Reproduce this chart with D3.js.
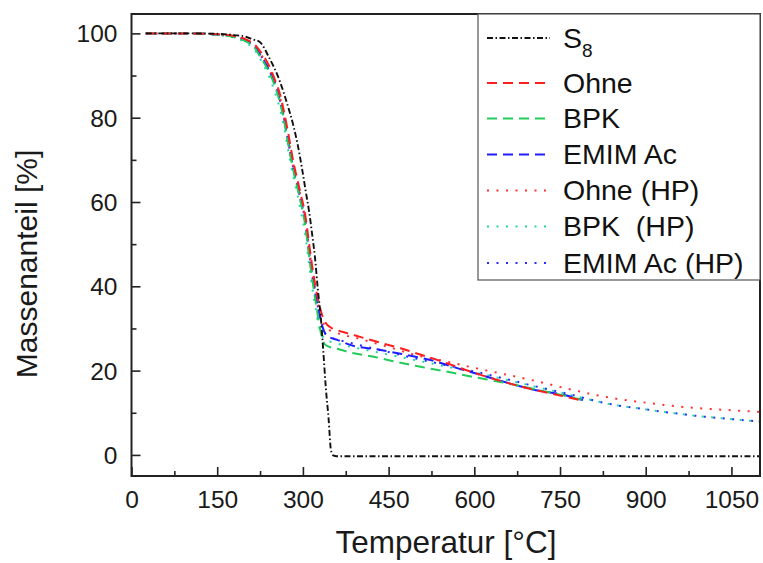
<!DOCTYPE html>
<html><head><meta charset="utf-8">
<script src="https://cdnjs.cloudflare.com/ajax/libs/d3/7.8.5/d3.min.js"></script>
<style>body{margin:0;background:#fff}svg{display:block;font-family:"Liberation Sans",Arial,sans-serif}text{white-space:pre}</style>
</head><body>
<svg id="c" width="763" height="563"></svg>
<script>
// ---- data (temperature °C, mass %) ----
const s8 = [[25,100],[100,100],[150,99.9],[180,99.6],[200,99.2],[212,98.6],[225,97.9],[240,94.5],[260,88.5],[272,83.5],[283,78.3],[291,73.5],[298,68.3],[305,62.5],[311,57.6],[316,52.5],[321,47],[326,39.5],[332,31.5],[336,24],[340,16.1],[345,8.5],[349,1.2],[353,-0.1],[359,-0.3],[450,-0.3],[600,-0.3],[750,-0.3],[900,-0.3],[1050,-0.3],[1100,-0.3]];
const ohne = [[25,100],[100,100],[150,99.8],[180,99.4],[200,98.6],[215,97.4],[225,95.8],[240,92.5],[251,89],[260,85.5],[266,82],[272,78],[278,73.5],[284,69],[290,65.5],[296,62],[304,57],[310,51],[316,45],[322,40],[328,36],[334,33],[340,31.3],[348,30.3],[360,29.6],[377,28.9],[400,28],[436,26.6],[471,25.3],[494,24.3],[520,23.2],[553,21.7],[580,20.4],[611,19],[650,17.4],[700,15.6],[750,14.1],[792,12.8]];
const bpk = [[25,100],[100,100],[150,99.7],[180,99.1],[200,98.1],[215,96.7],[225,94.5],[240,91],[251,87.5],[260,83.5],[266,80],[272,75.5],[278,71],[284,67],[290,63.5],[296,60],[304,54.5],[310,48],[316,42],[322,36.5],[328,31.5],[333,28],[338,26.3],[345,25.7],[360,25.2],[383,24.3],[424,23.3],[459,22.2],[506,20.9],[550,19.8],[594,18.6],[650,17.2],[699,15.8],[750,14.3],[790,13]];
const emim = [[25,100],[100,100],[150,99.7],[180,99.2],[200,98.3],[215,97],[225,95],[240,91.5],[251,88],[260,84],[266,80.5],[272,76],[278,71.5],[284,67.5],[290,64],[296,60.5],[304,55.5],[310,49],[316,43],[322,38],[328,34],[334,30.5],[340,28.6],[350,27.7],[360,27.3],[383,26.1],[436,24.9],[471,24],[523,22.5],[570,20.6],[611,19],[650,17.4],[700,15.6],[758,14.2],[790,13]];
const ohneHP = [[25,100],[100,100],[150,99.8],[180,99.3],[200,98.4],[215,97.1],[225,95.3],[240,92],[251,88.5],[260,84.8],[266,81.3],[272,77],[278,72.5],[284,68.3],[290,64.8],[296,61.3],[304,56],[310,50],[316,44],[322,39],[328,35],[334,32],[340,30.2],[350,29.4],[360,28.9],[400,27.5],[450,25.6],[500,23.6],[550,22.2],[582,21.2],[640,19.5],[699,17.8],[760,15.8],[845,13.4],[900,12.4],[950,11.6],[1000,11],[1050,10.6],[1100,10.2]];
const bpkHP = [[25,100],[100,100],[150,99.6],[180,99],[200,97.8],[215,96.2],[225,94],[240,90],[251,86],[260,82],[266,78.5],[272,74],[278,69.5],[284,65.5],[290,62],[296,58],[304,52.5],[310,46],[316,40],[322,35],[328,30.5],[334,28.2],[340,27.3],[350,26.8],[360,26.4],[400,25.2],[450,23.8],[500,22.4],[550,21],[600,19.6],[650,18],[700,16.4],[760,14.5],[840,12],[900,10.8],[950,9.9],[1000,9.1],[1050,8.5],[1100,7.9]];
const emimHP = [[25,100],[100,100],[150,99.7],[180,99.2],[200,98.3],[215,97],[225,95],[240,91.5],[251,88],[260,84],[266,80.5],[272,76],[278,71.5],[284,67.5],[290,64],[296,60.5],[304,55.5],[310,49],[316,43],[322,38],[328,34],[334,30.5],[340,28.6],[350,27.8],[360,27.4],[400,26],[450,24.4],[500,22.8],[550,21.3],[600,19.8],[650,18.2],[700,16.5],[760,14.6],[840,12],[900,10.8],[950,9.9],[1000,9.1],[1050,8.5],[1100,7.9]];
const seriesNames = ["S8","Ohne","BPK","EMIM Ac","Ohne (HP)","BPK  (HP)","EMIM Ac (HP)"];
const xTicks = [0,150,300,450,600,750,900,1050];
const yTicks = [0,20,40,60,80,100];

// ---- styles ----
const series = [
  {name:seriesNames[0], data:s8,     color:"#111", dash:"6,2.5,1.5,2.5", w:1.9},
  {name:seriesNames[1], data:ohne,   color:"#ff1e1e", dash:"10,6", w:2},
  {name:seriesNames[2], data:bpk,    color:"#22cc5a", dash:"10,6", w:2},
  {name:seriesNames[3], data:emim,   color:"#1e1eff", dash:"10,6", w:2},
  {name:seriesNames[4], data:ohneHP, color:"#ff3030", dash:"2,7.5", w:2},
  {name:seriesNames[5], data:bpkHP,  color:"#22d8a0", dash:"2,7.5", w:2},
  {name:seriesNames[6], data:emimHP, color:"#2a2aff", dash:"2,7.5", w:2}
];

const svg = d3.select("#c");
const x = d3.scaleLinear().domain([0,1100]).range([131.5,760]);
const y = d3.scaleLinear().domain([-5,104.6]).range([476,14]);

// lines (clip to plot)
svg.append("clipPath").attr("id","clip").append("rect")
  .attr("x",x(0)).attr("y",y(104.6)).attr("width",x(1100)-x(0)).attr("height",y(-5)-y(104.6));
const line = d3.line().x(d=>x(d[0])).y(d=>y(d[1])).curve(d3.curveMonotoneX);
const g = svg.append("g").attr("clip-path","url(#clip)");
series.slice().reverse().forEach(s=>{
  g.append("path").attr("d",line(s.data)).attr("fill","none")
   .attr("stroke",s.color).attr("stroke-width",s.w).attr("stroke-dasharray",s.dash);
});

// axes with inward ticks
const xMinor = d3.range(75,1100,150);
const yMinor = d3.range(10,101,20);
const xa = svg.append("g").attr("transform",`translate(0,${y(-5)})`)
  .call(d3.axisBottom(x).tickValues(xTicks).tickSize(-9).tickPadding(22).tickFormat(d3.format("d")));
const ya = svg.append("g").attr("transform",`translate(${x(0)},0)`)
  .call(d3.axisLeft(y).tickValues(yTicks).tickSize(-9).tickPadding(14).tickFormat(d3.format("d")));
svg.append("g").attr("transform",`translate(0,${y(-5)})`)
  .call(d3.axisBottom(x).tickValues(xMinor).tickSize(-5).tickFormat(""));
svg.append("g").attr("transform",`translate(${x(0)},0)`)
  .call(d3.axisLeft(y).tickValues(yMinor).tickSize(-5).tickFormat(""));
svg.selectAll(".domain").remove();
svg.selectAll(".tick line").attr("stroke","#222").attr("stroke-width",1.6);
svg.selectAll(".tick text").attr("font-size",24.5).attr("fill","#1a1a1a").attr("font-family","Liberation Sans, Arial, sans-serif");
xa.selectAll(".tick text").attr("dy","0").attr("y",32);
ya.selectAll(".tick text").attr("dy","0.35em");

// frame
svg.append("rect").attr("x",x(0)).attr("y",y(104.6)).attr("width",x(1100)-x(0)).attr("height",y(-5)-y(104.6))
  .attr("fill","none").attr("stroke","#222").attr("stroke-width",2);

// axis titles
svg.append("text").attr("x",446).attr("y",553).attr("text-anchor","middle")
  .attr("font-size",31.5).attr("fill","#1a1a1a").text("Temperatur [°C]");
svg.append("text").attr("transform","translate(37,264) rotate(-90)").attr("text-anchor","middle")
  .attr("font-size",30).attr("fill","#1a1a1a").text("Massenanteil [%]");

// legend
svg.append("rect").attr("x",478).attr("y",14).attr("width",760-478).attr("height",280-14)
  .attr("fill","#fff").attr("stroke","#555").attr("stroke-width",1.2);
const rowY = [38,83,118.5,154.5,190.5,226.5,263];
series.forEach((s,i)=>{
  const lg = svg.append("g").attr("transform",`translate(0,${rowY[i]})`);
  lg.append("line").attr("x1",487).attr("x2",550).attr("y1",0).attr("y2",0)
    .attr("stroke",s.color).attr("stroke-width",s.w).attr("stroke-dasharray",s.dash);
  const t = lg.append("text").attr("x",563).attr("y",9.5).attr("font-size",28.5).attr("fill","#111");
  if(i===0){
    t.text("S");
    t.append("tspan").attr("font-size",19).attr("dy",9).text("8");
  } else t.text(s.name);
});
</script>
</body></html>
